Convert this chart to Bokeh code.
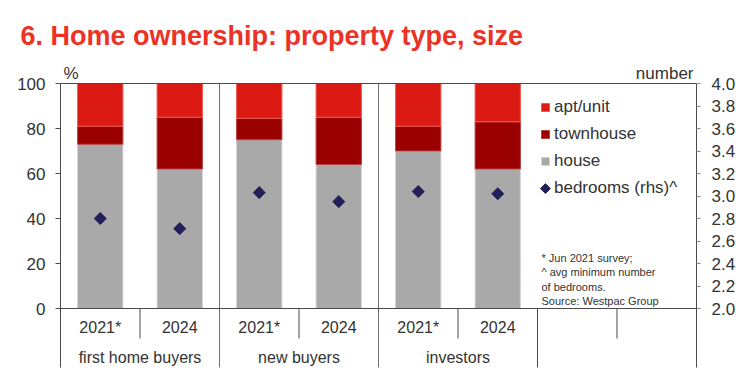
import numpy as np
from bokeh.plotting import figure
from bokeh.models import (Range1d, LinearAxis, FixedTicker, Span, Label, Legend, Title,
                          LegendItem, ColumnDataSource, PrintfTickFormatter)
from bokeh.core.properties import value
from bokeh.embed import file_html
from bokeh.resources import INLINE

# ---- data ----
groups = ["first home buyers", "new buyers", "investors"]
years = ["2021*", "2024"]
house = [73, 62, 75, 64, 70, 62]
townhouse = [8, 23, 9.5, 21, 11, 21]
apt = [19, 15, 15.5, 15, 19, 17]
bedrooms = [2.80, 2.71, 3.03, 2.95, 3.04, 3.02]
left_ticks = [0, 20, 40, 60, 80, 100]
right_ticks = [2.0, 2.2, 2.4, 2.6, 2.8, 3.0, 3.2, 3.4, 3.6, 3.8, 4.0]
n_slots = 8  # 3 groups x 2 years + one empty group

# ---- styles ----
FONT = "Liberation Sans"
TXT = "#333333"
AX = "#4a4a4a"
SEP = "#6e6e6e"
C_APT = "#DC1A14"
C_TOWN = "#9B0000"
C_HOUSE = "#A9A9A9"
C_NAVY = "#221F5A"
C_TITLE = "#EC3226"

W, H = 744, 378
px_per_unit = 2.25
frame_top_px = 60
y_top = 100 + (83 - frame_top_px) / px_per_unit
y_bot = y_top - (H - frame_top_px) / px_per_unit
line_low = -26.2
rhs = lambda v: 2.0 + v / 50.0

p = figure(width=W, height=H, x_range=Range1d(0, n_slots), y_range=Range1d(y_bot, y_top),
           output_backend="svg", toolbar_location=None,
           min_border_left=60, min_border_right=48, min_border_top=frame_top_px, min_border_bottom=0,
           outline_line_color=None, x_axis_location=None, y_axis_location=None,
           background_fill_color="white", border_fill_color="white")
p.grid.visible = False
p.extra_y_ranges = {"rhs": Range1d(rhs(y_bot), rhs(y_top))}

p.add_layout(Title(text="6. Home ownership: property type, size", align="left", offset=-40,
                   text_font="Liberation Sans", text_font_style="bold",
                   text_font_size="27px", text_color=C_TITLE, standoff=20), "above")

yl = LinearAxis(ticker=FixedTicker(ticks=left_ticks), bounds=(line_low, 100),
                axis_line_color=AX, major_tick_line_color=AX, major_tick_out=5, major_tick_in=0,
                minor_tick_line_color=None, major_label_standoff=10,
                major_label_text_font=FONT, major_label_text_font_size="17px",
                major_label_text_color=TXT)
p.add_layout(yl, "left")
yr = LinearAxis(y_range_name="rhs", ticker=FixedTicker(ticks=right_ticks),
                bounds=(rhs(line_low), 4.0), formatter=PrintfTickFormatter(format="%.1f"),
                axis_line_color=AX, major_tick_line_color="#888888", major_tick_out=4, major_tick_in=0,
                minor_tick_line_color=None, major_label_standoff=11,
                major_label_text_font=FONT, major_label_text_font_size="17px",
                major_label_text_color=TXT)
p.add_layout(yr, "right")

xs = [i + 0.5 for i in range(len(groups) * len(years))]
src = ColumnDataSource(dict(x=xs, house=house, townhouse=townhouse, apt=apt, bedrooms=bedrooms))
rs = p.vbar_stack(["house", "townhouse", "apt"], x="x", width=0.57, source=src,
                  fill_color=[C_HOUSE, C_TOWN, C_APT],
                  line_color=["#d4d4d4", "#b84040", "#ee5a50"], line_width=1)
dots = p.scatter(x="x", y="bedrooms", source=src, y_range_name="rhs", marker="square",
                 angle=np.pi / 4, size=8.5, fill_color=C_NAVY, line_color=C_NAVY)

# frame lines
p.add_layout(Span(location=100, dimension="width", line_color=AX, line_width=1))
p.add_layout(Span(location=0, dimension="width", line_color=AX, line_width=1))
ny = len(years)
inner = [k * ny for k in range(1, len(groups))]
p.segment(x0=inner, x1=inner, y0=[line_low] * len(inner), y1=[100] * len(inner),
          line_color=SEP, line_width=1)
outer = [len(groups) * ny]
p.segment(x0=outer, x1=outer, y0=[line_low], y1=[0], line_color=AX, line_width=1)
sub = [k * ny + 1 for k in range(n_slots // ny)]
p.segment(x0=sub, x1=sub, y0=[0] * len(sub), y1=[-13.3] * len(sub), line_color=AX, line_width=1)

# category labels
p.text(x=xs, y=-8.4, text=years * len(groups), text_align="center", text_baseline="middle",
       text_font=value(FONT), text_font_size="16px", text_color=TXT)
gx = [k * ny + ny / 2 for k in range(len(groups))]
p.text(x=gx, y=-21.8, text=groups, text_align="center", text_baseline="middle",
       text_font=value(FONT), text_font_size="16px", text_color=TXT)

# legend (bedrooms glyph drawn as a rotated square at the legend slot)
dummy = p.scatter(x=[], y=[], marker="square", fill_alpha=0, line_alpha=0)
leg = Legend(items=[LegendItem(label="apt/unit", renderers=[rs[2]]),
                    LegendItem(label="townhouse", renderers=[rs[1]]),
                    LegendItem(label="house", renderers=[rs[0]]),
                    LegendItem(label="bedrooms (rhs)^", renderers=[dummy])],
             location=(480, 180), glyph_width=10, glyph_height=10, label_standoff=4,
             spacing=7, padding=0, margin=0, border_line_color=None, background_fill_alpha=0,
             label_text_font=FONT, label_text_font_size="17px", label_text_color=TXT,
             label_height=20)
p.add_layout(leg)
p.scatter(x=[6.10], y=[53.3], marker="square", angle=np.pi / 4, size=7,
          fill_color=C_NAVY, line_color=C_NAVY)

# texts
p.add_layout(Label(x=6, y=25.2, x_offset=4, text="* Jun 2021 survey;\n^ avg minimum number\nof bedrooms.\nSource: Westpac Group",
                   text_font=FONT, text_font_size="11px", text_color=TXT, text_baseline="top",
                   text_line_height=1.2))
p.add_layout(Label(x=0, y=104.4, x_offset=3, text="%", text_font=FONT, text_font_size="17px",
                   text_color=TXT, text_baseline="middle"))
p.add_layout(Label(x=n_slots, y=104.4, x_offset=-3, text="number", text_font=FONT,
                   text_font_size="17px", text_color=TXT, text_baseline="middle", text_align="right"))

open("out.html", "w").write(file_html(p, INLINE))
